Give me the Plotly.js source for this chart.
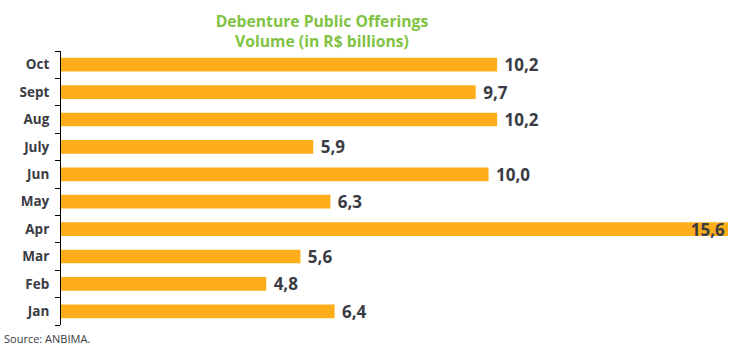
<!DOCTYPE html>
<html>
<head>
<meta charset="utf-8">
<script src="https://cdn.plot.ly/plotly-3.0.1.min.js"></script>
<style>html,body{margin:0;padding:0;background:#fff;}#chart{width:750px;height:355px;}</style>
</head>
<body>
<div id="chart"></div>
<script>
const months = ["Jan", "Feb", "Mar", "Apr", "May", "Jun", "July", "Aug", "Sept", "Oct"];
const volumes = [6.4, 4.8, 5.6, 15.6, 6.3, 10.0, 5.9, 10.2, 9.7, 10.2];
const titleText = "Debenture Public Offerings<br>Volume (in R$ billions)";
const sourceText = "Source: ANBIMA.";

const maxV = Math.max(...volumes);
const positions = volumes.map(v => v === maxV ? "inside" : "outside");
const labelFont = {family: "Open Sans", size: 17, color: "#3B3B44", weight: 700};

const trace = {
  type: "bar",
  orientation: "h",
  y: months,
  x: volumes,
  marker: {color: "#FDAE1A"},
  texttemplate: " %{x:.1f}",
  textposition: positions,
  insidetextanchor: "end",
  constraintext: "none",
  textfont: labelFont,
  insidetextfont: labelFont,
  outsidetextfont: labelFont,
  cliponaxis: false,
  hoverinfo: "none"
};

const layout = {
  width: 750, height: 355,
  margin: {l: 61, r: 22, t: 51, b: 30},
  paper_bgcolor: "#fff", plot_bgcolor: "#fff",
  separators: ",.",
  bargap: 0.5,
  showlegend: false,
  title: {
    text: titleText,
    x: 322/750, xanchor: "center", xref: "container",
    y: 0.925, yanchor: "top", yref: "container",
    font: {family: "Open Sans", size: 15.7, color: "#80C342", weight: 700}
  },
  xaxis: {
    range: [0, 15.6], visible: false, fixedrange: true
  },
  yaxis: {
    type: "category",
    showline: true, linecolor: "#000", linewidth: 1,
    ticks: "outside", tickson: "boundaries", ticklen: 5, tickcolor: "#000",
    ticklabelstandoff: 8,
    showgrid: false, zeroline: false,
    tickfont: {family: "Open Sans", size: 13.5, color: "#3B3B44", weight: 700}
  },
  annotations: [{
    text: sourceText, xref: "paper", yref: "paper",
    x: -61/689, y: 0, xanchor: "left", yanchor: "top", yshift: -4,
    showarrow: false,
    font: {family: "Open Sans", size: 11, color: "#3B3B44"}
  }]
};

Plotly.newPlot("chart", [trace], layout, {displayModeBar: false, staticPlot: true});
</script>
</body>
</html>
